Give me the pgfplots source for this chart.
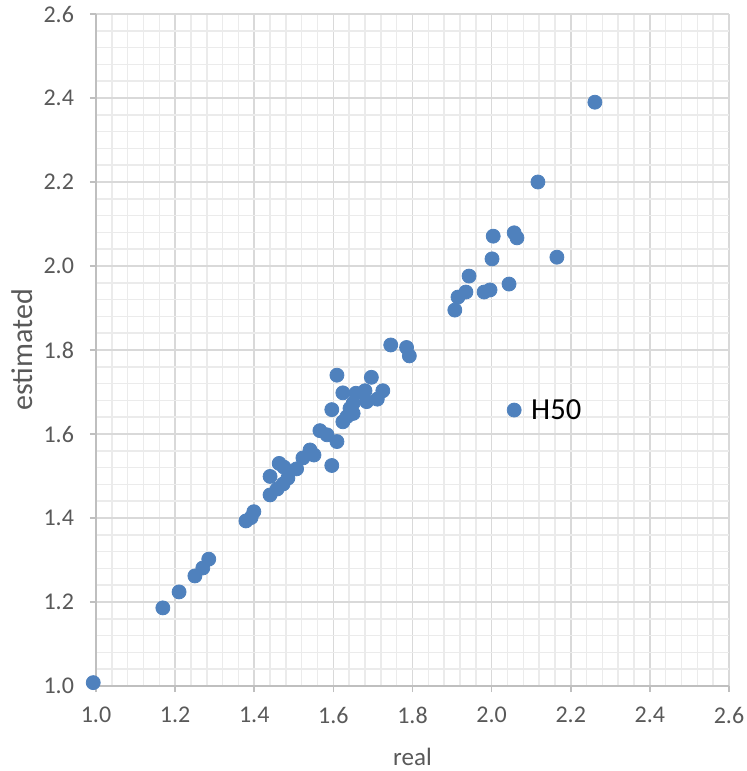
\documentclass[border=0pt]{standalone}
\usepackage{pgfplots}
\pgfplotsset{compat=1.18}
\usepackage{fontspec}
\setmainfont{Carlito}

\definecolor{ptblue}{HTML}{4F81BD}
\definecolor{txtgray}{HTML}{595959}
\definecolor{axgray}{HTML}{BFBFBF}
\definecolor{majgrid}{HTML}{D9D9D9}
\definecolor{mingrid}{HTML}{EBEBEB}

\begin{document}
\begin{tikzpicture}
    \begin{axis}[
        scale only axis,
        width=316.5pt,
        height=336pt,
        xmin=1, xmax=2.6,
        ymin=1, ymax=2.6,
        xtick={1.0,1.2,...,2.6},
        ytick={1.0,1.2,...,2.6},
        minor tick num=4,
        grid=both,
        major grid style={majgrid, line width=0.75pt},
        minor grid style={mingrid, line width=0.75pt},
        axis lines*=left,
        axis line style={axgray, line width=1pt, -},
        tick align=outside,
        major tick length=3pt,
        minor tick length=0pt,
        tick style={axgray, line width=0.75pt},
        ticklabel style={font=\fontsize{12}{14}\selectfont, text=txtgray},
        xticklabel style={yshift=-4pt},
        yticklabel style={xshift=-4.5pt},
        /pgf/number format/assume math mode=true,
        /pgf/number format/fixed,
        /pgf/number format/fixed zerofill,
        /pgf/number format/precision=1,
        xlabel={real},
        ylabel={estimated},
        label style={text=txtgray},
        xlabel style={font=\fontsize{12.5}{15}\selectfont,
            at={(axis description cs:0.5,-0.119)}, anchor=base},
        ylabel style={font=\fontsize{15}{18}\selectfont,
            at={(axis description cs:-0.101,0.5)}, anchor=base, rotate=0},
        clip=false,
    ]
        \addplot[only marks, mark=*, mark size=3.5pt, color=ptblue] coordinates {
            (0.993,1.008) (1.169,1.186) (1.210,1.224) (1.250,1.262) (1.270,1.281)
            (1.285,1.302) (1.379,1.393) (1.392,1.401) (1.399,1.415) (1.440,1.455)
            (1.440,1.499)
            (1.458,1.469) (1.463,1.530) (1.473,1.481) (1.475,1.521) (1.485,1.495)
            (1.507,1.517) (1.523,1.543) (1.541,1.562) (1.551,1.550) (1.566,1.608)
            (1.584,1.598) (1.596,1.525) (1.596,1.658) (1.609,1.582) (1.609,1.740)
            (1.624,1.629) (1.624,1.698) (1.634,1.641) (1.642,1.661) (1.650,1.649)
            (1.650,1.673) (1.657,1.697) (1.680,1.703) (1.684,1.677) (1.696,1.735)
            (1.711,1.683) (1.725,1.703) (1.745,1.812) (1.785,1.806) (1.792,1.786)
            (1.907,1.895) (1.915,1.926) (1.935,1.938) (1.943,1.976) (1.981,1.938)
            (1.996,1.943) (2.001,2.017) (2.004,2.071) (2.044,1.957) (2.057,2.079)
            (2.064,2.067) (2.117,2.200) (2.165,2.021) (2.261,2.390)
        };
        \addplot[only marks, mark=*, mark size=3.5pt, color=ptblue,
            point meta=explicit symbolic, nodes near coords,
            every node near coord/.append style={anchor=west, xshift=5pt,
                text=black, font=\fontsize{15.3}{18}\selectfont}]
            coordinates {(2.057,1.657) [H50]};
    \end{axis}
    \pgfresetboundingbox
    \path[use as bounding box] ([xshift=-48pt,yshift=-42.5pt]current axis.south west)
        rectangle ([xshift=8.5pt,yshift=7pt]current axis.north east);
\end{tikzpicture}
\end{document}
